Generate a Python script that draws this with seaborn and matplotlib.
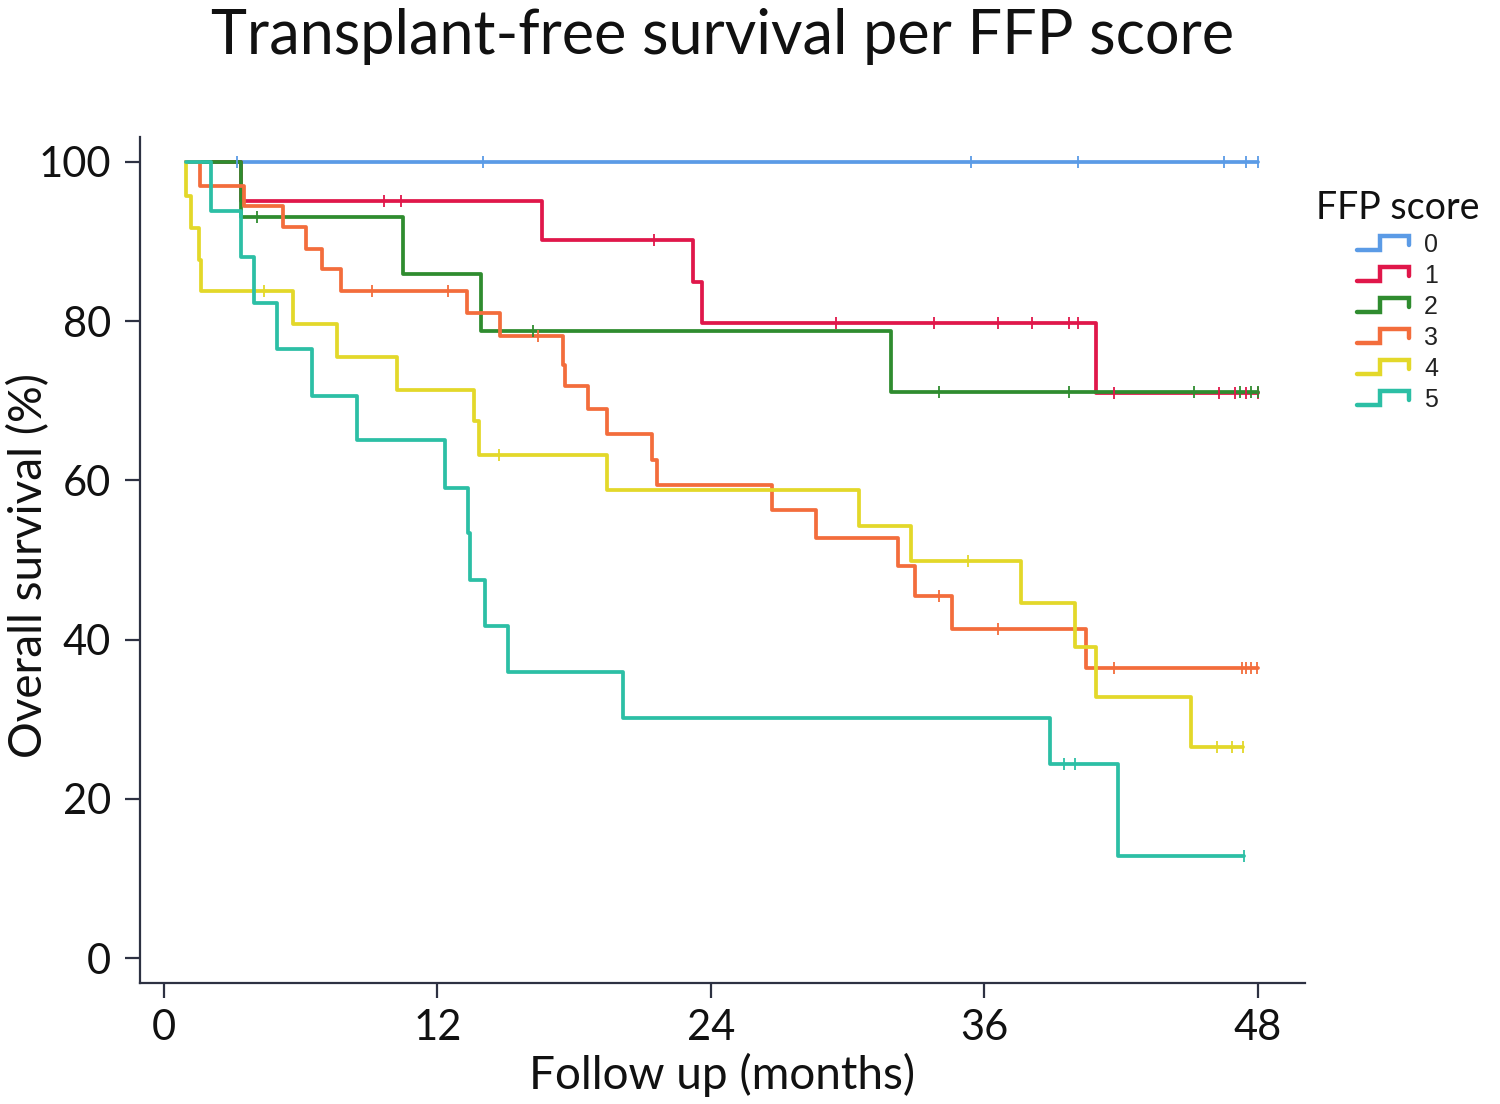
import numpy as np
import pandas as pd
import matplotlib
matplotlib.use("Agg")
import matplotlib.pyplot as plt
from matplotlib.lines import Line2D
from matplotlib.legend_handler import HandlerBase
import seaborn as sns

# =========================
# データ
# =========================

scores = ["0", "1", "2", "3", "4", "5"]

# event times (months) and survival (%) right after each time
times_0 = [0.95]
surv_0 = [100]
end_0 = 48.0
cens_0 = [3.2, 14.0, 35.4, 40.1, 46.5, 47.5, 48.0]

times_1 = [0.95, 3.4, 16.6, 23.2, 23.6, 40.9]
surv_1 = [100, 95.1, 90.2, 84.9, 79.8, 71.0]
end_1 = 48.0
cens_1 = [9.65, 10.4, 21.5, 29.5, 33.8, 36.6, 38.1, 39.7, 40.1, 41.7, 46.3, 47.0, 47.5, 48.0]

times_2 = [0.95, 3.4, 10.5, 13.9, 31.9]
surv_2 = [100, 93.0, 85.9, 78.8, 71.1]
end_2 = 48.0
cens_2 = [4.1, 16.2, 34.0, 39.7, 45.2, 47.2, 47.7, 48.0]

times_3 = [0.95, 1.58, 3.51, 5.24, 6.22, 6.92, 7.77, 13.28, 14.74, 17.5, 17.6,
           18.6, 19.45, 21.4, 21.65, 26.7, 28.6, 32.2, 32.95, 34.6, 40.45]
surv_3 = [100, 97.0, 94.5, 91.8, 89.1, 86.5, 83.8, 81.0, 78.1, 74.5, 71.9,
          68.9, 65.8, 62.6, 59.4, 56.3, 52.8, 49.2, 45.5, 41.4, 36.4]
end_3 = 48.0
cens_3 = [9.14, 12.48, 16.4, 34.0, 36.6, 41.7, 47.3, 47.5, 47.7, 47.95]

times_4 = [0.95, 0.98, 1.17, 1.55, 1.65, 5.67, 7.6, 10.24, 13.6, 13.84, 19.45,
           30.5, 32.8, 37.6, 40.0, 40.9, 45.05]
surv_4 = [100, 95.7, 91.7, 87.7, 83.8, 79.6, 75.5, 71.4, 67.4, 63.2, 58.8,
          54.3, 49.9, 44.6, 39.1, 32.8, 26.5]
end_4 = 47.35
cens_4 = [4.4, 14.7, 35.3, 46.2, 46.85, 47.35]

times_5 = [0.95, 2.05, 3.38, 3.96, 4.97, 6.52, 8.48, 12.33, 13.35, 13.42,
           14.08, 15.1, 20.16, 38.9, 41.85]
surv_5 = [100, 93.8, 88.0, 82.2, 76.5, 70.6, 65.1, 59.1, 53.4, 47.5,
          41.7, 36.0, 30.2, 24.4, 12.85]
end_5 = 47.4
cens_5 = [39.5, 40.0, 47.4]

all_times = [times_0, times_1, times_2, times_3, times_4, times_5]
all_surv = [surv_0, surv_1, surv_2, surv_3, surv_4, surv_5]
all_end = [end_0, end_1, end_2, end_3, end_4, end_5]
all_cens = [cens_0, cens_1, cens_2, cens_3, cens_4, cens_5]

colors = ["#5b9be6", "#e0174a", "#2f8c2f", "#f36d3c", "#e3d82a", "#2cbfa5"]

x_ticks = [0, 12, 24, 36, 48]
y_ticks = [0, 20, 40, 60, 80, 100]

# =========================
# DataFrame 構築
# =========================

rows = []
for s, t, v, e in zip(scores, all_times, all_surv, all_end):
    for ti, vi in zip(t, v):
        rows.append((s, ti, vi))
    rows.append((s, e, v[-1]))
df = pd.DataFrame(rows, columns=["score", "time", "surv"])

cens_rows = []
for s, t, v, c in zip(scores, all_times, all_surv, all_cens):
    t = np.asarray(t)
    v = np.asarray(v)
    for ci in c:
        idx = np.searchsorted(t, ci, side="right") - 1
        cens_rows.append((s, ci, v[max(idx, 0)]))
cens_df = pd.DataFrame(cens_rows, columns=["score", "time", "surv"])

palette = dict(zip(scores, colors))

# =========================
# 描画
# =========================

sns.set_theme(style="white")
plt.rcParams["font.family"] = ["Lato", "DejaVu Sans"]

spine_col = "#2d3142"
text_col = "#111111"

fig = plt.figure(figsize=(15, 11.04), dpi=100)
ax = fig.add_axes([0.0933, 0.1096, 0.7767, 0.7663])

sns.lineplot(data=df, x="time", y="surv", hue="score", palette=palette,
             drawstyle="steps-post", estimator=None, sort=False,
             linewidth=2.7, legend=False, ax=ax)

for s in scores:
    sub = cens_df[cens_df["score"] == s]
    ax.plot(sub["time"], sub["surv"], ls="none", marker="|",
            markersize=8, markeredgewidth=1.3, color=palette[s])

ax.set_xlim(-1.05, 50.07)
ax.set_ylim(-3.1, 103.1)
ax.set_xticks(x_ticks)
ax.set_yticks(y_ticks)
ax.tick_params(axis="both", which="major", labelsize=30, length=11,
               width=1.6, color=spine_col, pad=8, labelcolor=text_col,
               bottom=True, left=True)
ax.tick_params(axis="y", pad=10)

for side in ["top", "right"]:
    ax.spines[side].set_visible(False)
for side in ["left", "bottom"]:
    ax.spines[side].set_color(spine_col)
    ax.spines[side].set_linewidth(1.6)

ax.set_xlabel("Follow up (months)", fontsize=33, color=text_col)
ax.set_ylabel("Overall survival (%)", fontsize=33, color=text_col)
ax.xaxis.set_label_coords(0.5, -0.082)
ax.yaxis.set_label_coords(-0.077, 0.494)

ax.text(0.5, 0.993, "Transplant-free survival per FFP score", fontsize=44,
        color=text_col, ha="center", va="top",
        transform=matplotlib.transforms.blended_transform_factory(ax.transAxes, fig.transFigure))


# 凡例：ステップ型のアイコン
class StepHandler(HandlerBase):
    def create_artists(self, legend, orig_handle, xdescent, ydescent,
                       width, height, fontsize, trans):
        x0, x1 = -xdescent, -xdescent + width
        y0, y1 = -ydescent, -ydescent + height
        xm = x0 + 0.45 * width
        xs = [x0, xm, xm, x1, x1]
        ys = [y0 + 0.1 * height, y0 + 0.1 * height, y1, y1, y1 - 0.6 * height]
        line = Line2D(xs, ys, color=orig_handle.get_color(), linewidth=3.2,
                      solid_joinstyle="miter", transform=trans)
        return [line]


handles = [Line2D([0], [0], color=c) for c in colors]
leg = fig.legend(handles, scores, handler_map={Line2D: StepHandler()},
                 title="FFP score", loc="upper left",
                 bbox_to_anchor=(0.862, 0.848), frameon=False,
                 handlelength=2.1, handleheight=0.6, handletextpad=0.6,
                 labelspacing=0.28, prop={"family": "Liberation Sans", "size": 18})
leg.get_title().set_fontsize(27)
leg.get_title().set_color(text_col)
for txt in leg.get_texts():
    txt.set_color("#222222")

fig.savefig("out.png", dpi=100)
